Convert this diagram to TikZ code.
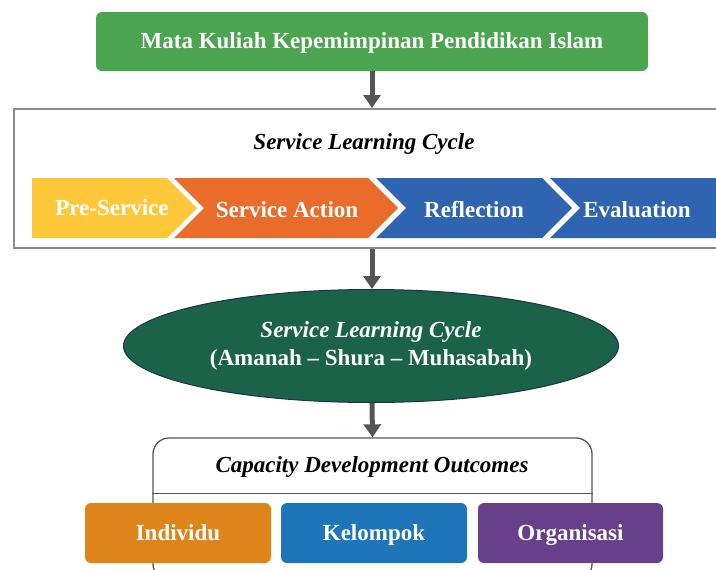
\documentclass[tikz,border=0pt]{standalone}
\usepackage{fontspec}
\setmainfont{Liberation Serif}
\usetikzlibrary{arrows.meta,shapes.geometric}
\definecolor{topgreen}{RGB}{75,165,80}
\definecolor{cyel}{RGB}{254,200,58}
\definecolor{corange}{RGB}{233,108,43}
\definecolor{cblue}{RGB}{46,100,176}
\definecolor{ellgreen}{RGB}{26,99,72}
\definecolor{ellborder}{RGB}{30,50,80}
\definecolor{indcol}{RGB}{221,133,27}
\definecolor{kelcol}{RGB}{30,117,186}
\definecolor{orgcol}{RGB}{104,63,138}
\definecolor{boxgray}{RGB}{140,140,140}
\definecolor{arrgray}{RGB}{85,85,85}
\tikzset{
  bigtxt/.style={font=\fontsize{23}{27}\selectfont\bfseries},
  itxt/.style={font=\fontsize{23}{27}\selectfont\bfseries\itshape},
  whitetxt/.style={bigtxt,text=white},
  conn/.style={draw=arrgray,line width=5pt,-{Triangle[width=17pt,length=13pt]}},
  outbox/.style={rounded corners=6pt,inner sep=0pt,text height=16pt,text depth=2pt},
}
\begin{document}
\begin{tikzpicture}[x=1pt,y=-1pt]
\useasboundingbox (0,0) rectangle (716,570);
\clip (0,0) rectangle (716,570);
% top box
\node[outbox,fill=topgreen,minimum width=552pt,minimum height=59pt,whitetxt] (top) at (372,41.5) {Mata Kuliah Kepemimpinan Pendidikan Islam};
% big frame
\node[draw=boxgray,line width=2pt,minimum width=716pt,minimum height=139pt,inner sep=0pt] (slc) at (372,178.5) {};
\node[itxt] (slct) at (364,144) {Service Learning Cycle};
% chevrons
\fill[cyel] (32,178) -- (167,178) -- (197,208) -- (167,238) -- (32,238) -- cycle;
\fill[corange] (174,178) -- (368,178) -- (398,208) -- (368,238) -- (174,238) -- (204,208) -- cycle;
\fill[cblue] (376,178) -- (542,178) -- (572,208) -- (542,238) -- (376,238) -- (406,208) -- cycle;
\fill[cblue] (550,178) -- (730,178) -- (730,238) -- (550,238) -- (580,208) -- cycle;
\node[whitetxt] (c1) at (112,208) {Pre-Service};
\node[whitetxt] (c2) at (287,210) {Service Action};
\node[whitetxt] (c3) at (474,210) {Reflection};
\node[whitetxt] (c4) at (637,210) {Evaluation};
% ellipse
\node[ellipse,fill=ellgreen,draw=ellborder,line width=1pt,minimum width=495pt,minimum height=113pt,inner sep=0pt] (ell) at (371,346) {};
\node[itxt,text=white] (e1) at (371,332) {Service Learning Cycle};
\node[whitetxt] (e2) at (371,360) {(Amanah -- Shura -- Muhasabah)};
% bottom box
\node[draw=arrgray,line width=1.3pt,rounded corners=16pt,minimum width=439pt,minimum height=142pt,inner sep=0pt] (cdo) at (372.5,509) {};
\draw[arrgray,line width=1pt] (cdo.west |- 0,493) coordinate (hl) -- (cdo.east |- 0,493) coordinate (hr);
\node[itxt] (cdot) at (372,467) {Capacity Development Outcomes};
\node[outbox,fill=indcol,minimum width=186pt,minimum height=60pt,whitetxt] (ind) at (178,533) {Individu};
\node[outbox,fill=kelcol,minimum width=186pt,minimum height=60pt,whitetxt] (kel) at (374,533) {Kelompok};
\node[outbox,fill=orgcol,minimum width=185pt,minimum height=60pt,whitetxt] (org) at (570.5,533) {Organisasi};
% connectors
\draw[conn] (top.south) -- (slc.north);
\draw[conn] (slc.south) -- (slc.south |- ell.north);
\draw[conn] (ell.south -| slc.south) -- (cdo.north);
\end{tikzpicture}
\end{document}
